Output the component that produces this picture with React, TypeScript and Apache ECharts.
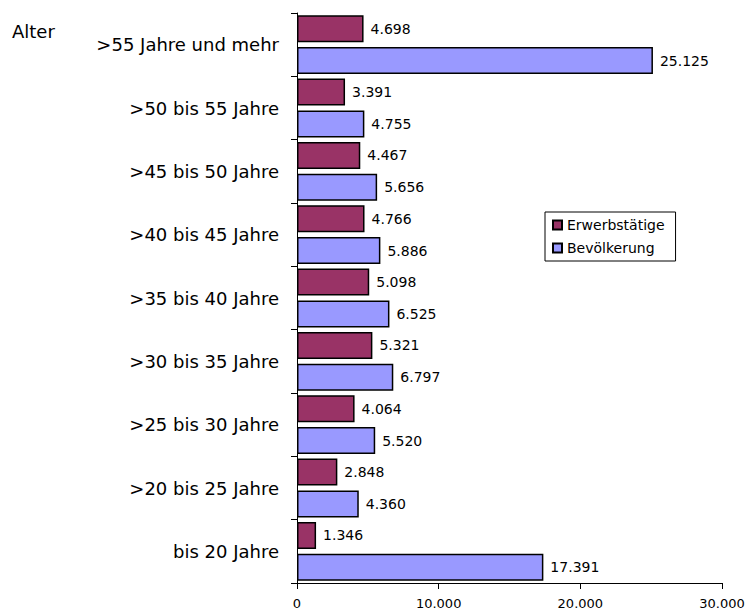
import React, { useEffect, useRef } from "react";
import * as echarts from "echarts";

const categories = [
  ">55 Jahre und mehr",
  ">50 bis 55 Jahre",
  ">45 bis 50 Jahre",
  ">40 bis 45 Jahre",
  ">35 bis 40 Jahre",
  ">30 bis 35 Jahre",
  ">25 bis 30 Jahre",
  ">20 bis 25 Jahre",
  "bis 20 Jahre",
];
const erwerbstaetige = [4698, 3391, 4467, 4766, 5098, 5321, 4064, 2848, 1346];
const bevoelkerung = [25125, 4755, 5656, 5886, 6525, 6797, 5520, 4360, 17391];
const xTicks = { min: 0, max: 30000, interval: 10000 };

const FONT = "DejaVu Sans";
const fmt = (v: number) => String(Math.round(v)).replace(/\B(?=(\d{3})+(?!\d))/g, ".");

export default function App() {
  const ref = useRef<HTMLDivElement>(null);
  useEffect(() => {
    const chart = echarts.init(ref.current!, null, { renderer: "svg" });
    const label = {
      show: true,
      position: "right",
      distance: 7,
      color: "#000",
      fontFamily: FONT,
      fontSize: 14,
      formatter: (p: any) => fmt(p.value),
    };
    chart.setOption({
      animation: false,
      backgroundColor: "#fff",
      textStyle: { fontFamily: FONT },
      grid: { left: 297, right: 26, top: 13, bottom: 30, containLabel: false },
      legend: {
        orient: "vertical",
        left: 545,
        top: 212,
        padding: [6, 11, 6, 7],
        itemGap: 9,
        itemWidth: 9,
        itemHeight: 9,
        icon: "rect",
        borderColor: "#000",
        borderWidth: 1,
        textStyle: { fontFamily: FONT, fontSize: 14, color: "#000" },
        data: ["Erwerbstätige", "Bevölkerung"],
      },
      xAxis: {
        type: "value",
        min: xTicks.min,
        max: xTicks.max,
        interval: xTicks.interval,
        splitLine: { show: false },
        axisLine: { show: true, lineStyle: { color: "#000", width: 1 } },
        axisTick: { show: true, length: 6, lineStyle: { color: "#000" } },
        axisLabel: {
          color: "#000",
          fontFamily: FONT,
          fontSize: 13,
          margin: 14,
          formatter: (v: number) => fmt(v),
        },
      },
      yAxis: {
        type: "category",
        inverse: true,
        data: categories,
        axisLine: { show: true, lineStyle: { color: "#000", width: 1 } },
        axisTick: { show: true, length: 6, alignWithLabel: false, lineStyle: { color: "#000" } },
        axisLabel: { color: "#000", fontFamily: FONT, fontSize: 18, margin: 18 },
      },
      graphic: [
        {
          type: "text",
          left: 12,
          top: 22,
          style: { text: "Alter", font: `18px "${FONT}"`, fill: "#000" },
        },
      ],
      series: [
        {
          name: "Erwerbstätige",
          type: "bar",
          data: erwerbstaetige,
          barWidth: 27,
          barGap: "18%",
          itemStyle: { color: "#993366", borderColor: "#000", borderWidth: 1.5 },
          label,
        },
        {
          name: "Bevölkerung",
          type: "bar",
          data: bevoelkerung,
          barWidth: 27,
          barGap: "18%",
          itemStyle: { color: "#9999FF", borderColor: "#000", borderWidth: 1.5 },
          label,
        },
      ],
    });
    return () => chart.dispose();
  }, []);
  return (
    <div
      ref={ref}
      style={{ position: "fixed", left: 0, top: 0, width: 748, height: 613 }}
    />
  );
}
